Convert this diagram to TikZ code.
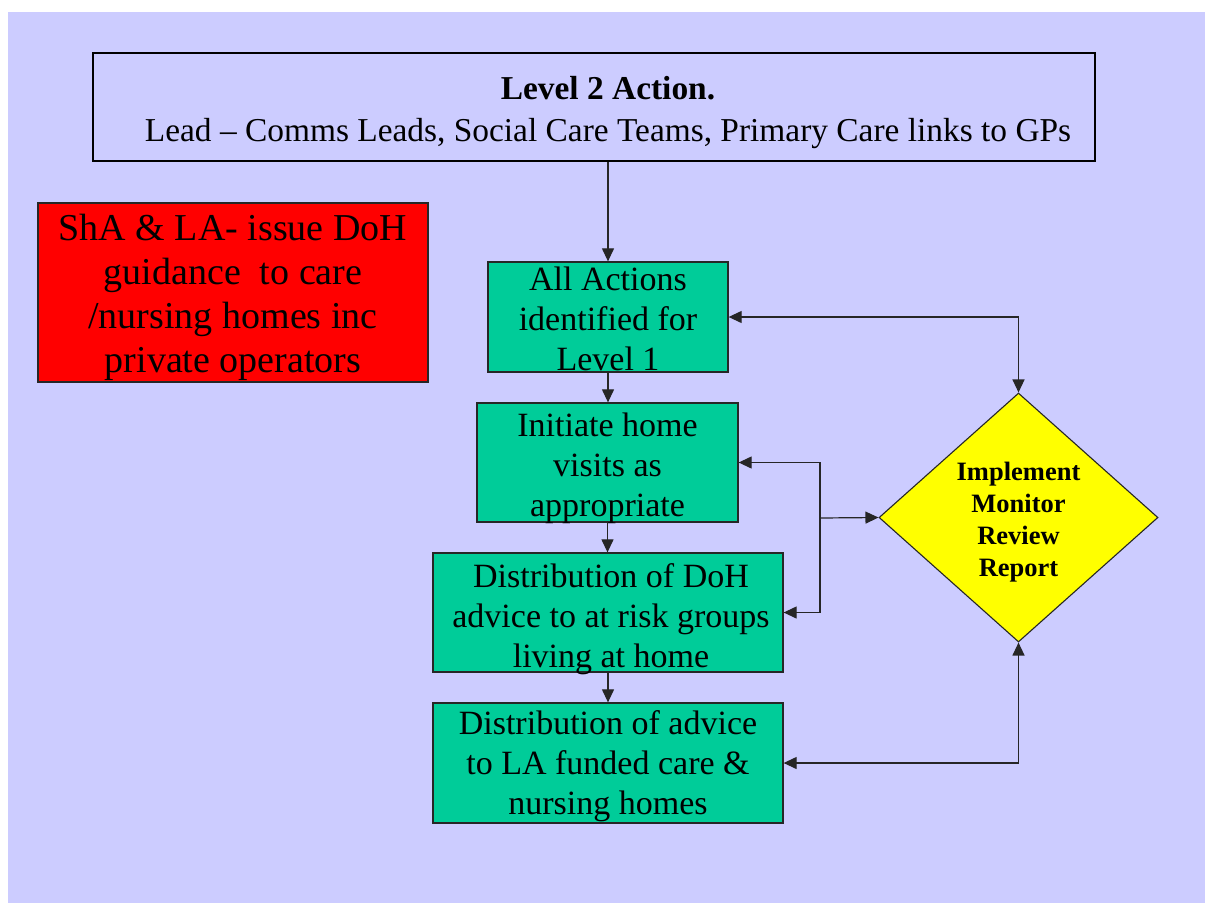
\documentclass[tikz,border=0pt]{standalone}
\usepackage{fontspec}
\setmainfont{Liberation Serif}
\usetikzlibrary{arrows.meta,shapes.geometric}
\definecolor{lav}{HTML}{CCCCFF}
\definecolor{grn}{HTML}{00CC99}
\definecolor{rd}{HTML}{FF0000}
\definecolor{ylw}{HTML}{FFFF00}
\tikzset{
  greenbox/.style={draw=black!85, line width=1.3pt, fill=grn, rectangle, inner sep=0pt},
  gtxt/.style={align=center, font=\fontsize{34}{40}\selectfont},
  tip/.tip={Triangle[length=13pt,width=12pt]},
  conn/.style={line width=1.2pt, draw=black!85, -tip},
  conn2/.style={line width=1.2pt, draw=black!85, tip-tip},
}
\begin{document}
\begin{tikzpicture}[x=1pt,y=-1pt]
\useasboundingbox (0,0) rectangle (1205,903);
\fill[white] (0,0) rectangle (1205,903);
\fill[lav] (8,12) rectangle (1205,903);
\node[draw=black, line width=2pt, fill=lav, minimum width=1002pt, minimum height=108pt, inner sep=0pt,
  label={[align=center, font=\fontsize{33.4}{42}\selectfont, xshift=14pt, yshift=-6pt]center:\textbf{Level 2 Action.}\\Lead – Comms Leads, Social Care Teams, Primary Care links to GPs}] (top) at (594,107) {};
\node[draw=black!85, line width=1.3pt, fill=rd, minimum width=390pt, minimum height=179pt, inner sep=0pt,
  label={[align=center, font=\fontsize{38}{44}\selectfont, yshift=-5pt]center:ShA \& LA- issue DoH\\guidance \ to care\\/nursing homes inc\\private operators}] (red) at (233,292.5) {};
\node[greenbox, minimum width=240pt, minimum height=110pt,
  label={[gtxt, yshift=-2pt]center:All Actions\\identified for\\Level 1}] (b1) at (608,317) {};
\node[greenbox, minimum width=261pt, minimum height=119pt,
  label={[gtxt, yshift=-6pt]center:Initiate home\\visits as\\appropriate}] (b2) at (607.5,462.5) {};
\node[greenbox, minimum width=350pt, minimum height=119pt,
  label={[gtxt, yshift=-7pt, xshift=3pt]center:Distribution of DoH\\advice to at risk groups\\living at home}] (b3) at (608,612.5) {};
\node[greenbox, minimum width=350pt, minimum height=120pt,
  label={[gtxt, yshift=-3pt]center:Distribution of advice\\to LA funded care \&\\nursing homes}] (b4) at (608,763) {};
\node[diamond, draw=black!85, line width=1.1pt, fill=ylw, minimum width=279pt, minimum height=249pt, inner sep=0pt,
  aspect=1.12,
  label={[align=center, font=\bfseries\fontsize{26.5}{32}\selectfont, yshift=-5pt]center:Implement\\Monitor\\Review\\Report}] (dia) at (1018.5,517.5) {};
\coordinate (j) at (820,518);
\draw[conn] (b1.north |- top.south) -- (b1.north);
\draw[conn] (b1.south) -- (b1.south |- b2.north);
\draw[conn] (b2.south) -- (b2.south |- b3.north);
\draw[conn] (b3.south) -- (b4.north);
\draw[conn2] (b1.east) -| (dia.north);
\draw[conn2] (b4.east) -| (dia.south);
\draw[conn] (j) -- (dia.west);
\draw[conn] (j) |- (b2.east);
\draw[conn] (j) |- (b3.east);
\end{tikzpicture}
\end{document}
